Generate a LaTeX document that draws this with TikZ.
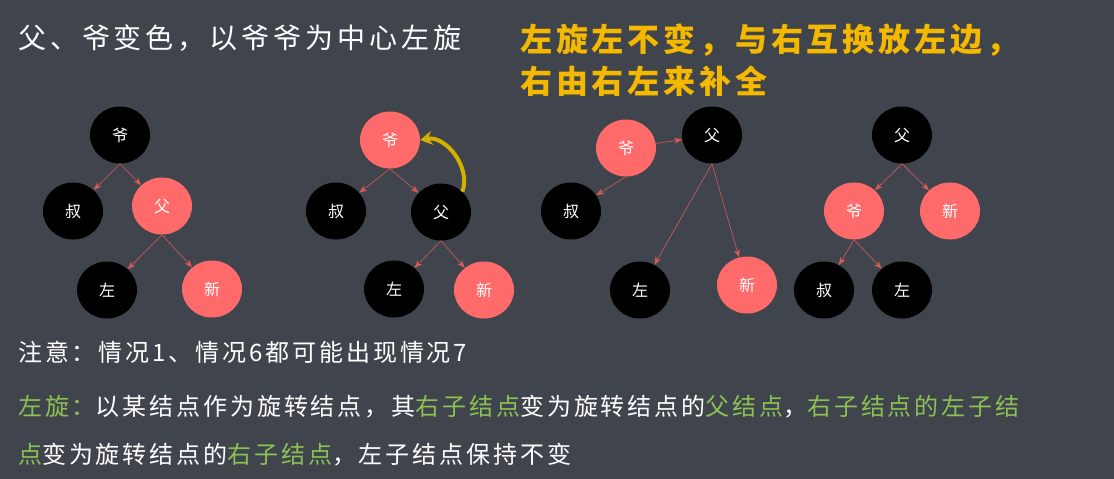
\documentclass[tikz,border=0pt]{standalone}
\usepackage{fontspec}
\setmainfont{Noto Sans CJK SC}
\newfontfamily\spA[LetterSpace=14]{Noto Sans CJK SC}
\newfontfamily\spB[LetterSpace=12]{Noto Sans CJK SC}
\usetikzlibrary{arrows.meta,shapes.geometric}
\definecolor{bg}{HTML}{40444C}
\definecolor{redn}{HTML}{FF6B6B}
\definecolor{gold}{HTML}{F5B800}
\definecolor{arr}{HTML}{D4B000}
\definecolor{grn}{HTML}{8DC153}
\tikzset{
 rb/.style={ellipse,minimum width=60pt,minimum height=57pt,inner sep=0pt,text=white,font=\fontsize{16}{18}\selectfont},
 bk/.style={rb,fill=black},
 rd/.style={rb,fill=redn},
 ed/.style={draw=redn!85!black,line width=0.6pt,-{Stealth[length=8pt,width=6pt]}},
 tx/.style={anchor=west,text=white,font=\spB\fontsize{24}{28}\selectfont,inner sep=0pt}
}
\begin{document}
\begin{tikzpicture}[x=1pt,y=-1pt]
\fill[bg] (0,0) rectangle (1114,479);
\useasboundingbox (0,0) rectangle (1114,479);
\node[tx,font=\spA\fontsize{28}{32}\selectfont] (t1) at (18,38) {父、爷变色，以爷爷为中心左旋};
\node[tx,text=gold,font=\spB\fontsize{32}{36}\bfseries\selectfont] (t2) at (520,40) {左旋左不变，与右互换放左边，};
\node[tx,text=gold,font=\spB\fontsize{32}{36}\bfseries\selectfont] (t3) at (520,81) {右由右左来补全};
% tree1
\node[bk] (a1) at (120,135) {爷};
\node[bk] (a2) at (73,211) {叔};
\node[rd] (a3) at (162,206) {父};
\node[bk] (a4) at (107,290) {左};
\node[rd] (a5) at (212,289) {新};
\draw[ed] (a1.south) -- (a2); \draw[ed] (a1.south) -- (a3);
\draw[ed] (a3.south) -- (a4); \draw[ed] (a3.south) -- (a5);
% tree2
\node[rd] (b1) at (390,140) {爷};
\node[bk] (b2) at (336,211) {叔};
\node[bk] (b3) at (441,212) {父};
\node[bk] (b4) at (394,289) {左};
\node[rd] (b5) at (484,290) {新};
\draw[ed] (b1.south) -- (b2); \draw[ed] (b1.south) -- (b3);
\draw[ed] (b3.south) -- (b4); \draw[ed] (b3.south) -- (b5);
\draw[arr,line width=4pt,-{Stealth[length=12pt,width=14pt]}] (b3.north east) to[out=70,in=10] (b1.east);
% tree3
\node[rd] (c1) at (626,148) {爷};
\node[bk] (c2) at (712,135) {父};
\node[bk] (c3) at (571,211) {叔};
\node[bk] (c4) at (640,290) {左};
\node[rd] (c5) at (747,285) {新};
\draw[ed] (c1) -- (c2); \draw[ed] (c1.south) -- (c3);
\draw[ed] (c2.south) -- (c4); \draw[ed] (c2.south) -- (c5);
% tree4
\node[bk] (d1) at (902,135) {父};
\node[rd] (d2) at (854,211) {爷};
\node[rd] (d3) at (950,211) {新};
\node[bk] (d4) at (824,290) {叔};
\node[bk] (d5) at (902,290) {左};
\draw[ed] (d1.south) -- (d2); \draw[ed] (d1.south) -- (d3);
\draw[ed] (d2.south) -- (d4); \draw[ed] (d2.south) -- (d5);
% bottom text
\node[tx] (n1) at (18,352) {注意：情况1、情况6都可能出现情况7};
\node[tx] (n2) at (18,407) {\textcolor{grn}{左旋：}以某结点作为旋转结点，其\textcolor{grn}{右子结点}变为旋转结点的\textcolor{grn}{父结点}，\textcolor{grn}{右子结点的左子结}};
\node[tx] (n3) at (18,455) {\textcolor{grn}{点}变为旋转结点的\textcolor{grn}{右子结点}，左子结点保持不变};
\end{tikzpicture}
\end{document}
